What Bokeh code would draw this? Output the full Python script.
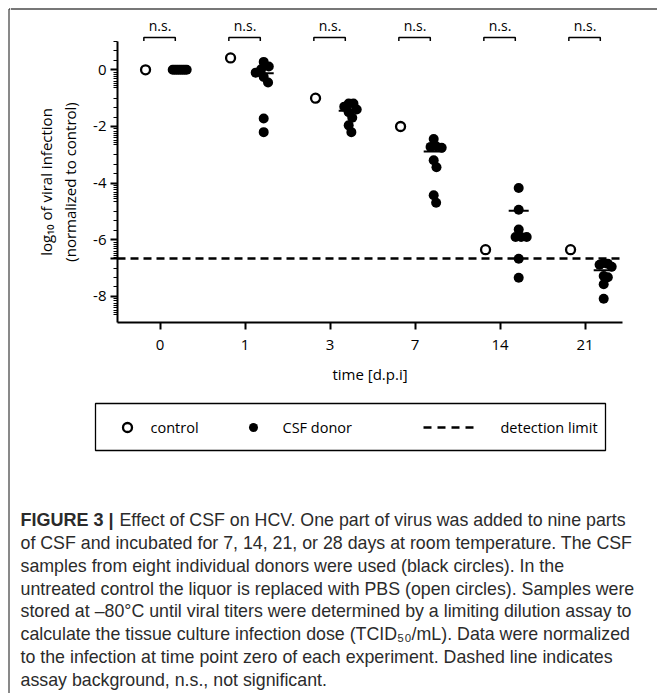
import math
from bokeh.plotting import figure
from bokeh.layouts import column, row
from bokeh.models import Range1d, FixedTicker, CustomJSTickFormatter, Span
from bokeh.core.properties import value
from bokeh.embed import file_html
from bokeh.resources import INLINE

# ---------------- data ----------------
days = ["0", "1", "3", "7", "14", "21"]
control = [0.0, 0.42, -1.0, -2.0, -6.35, -6.35]
csf_d0 = [0.0, 0.0, 0.0, 0.0, 0.0, 0.0, 0.0, 0.0]
csf_d1 = [0.28, 0.12, 0.02, -0.10, -0.25, -0.45, -1.72, -2.20]
csf_d3 = [-1.19, -1.19, -1.30, -1.40, -1.50, -1.69, -1.96, -2.20]
csf_d7 = [-2.44, -2.70, -2.72, -2.75, -3.19, -3.44, -4.43, -4.69]
csf_d14 = [-4.17, -4.94, -5.64, -5.90, -5.90, -5.90, -6.67, -7.34]
csf_d21 = [-6.82, -6.85, -6.88, -6.95, -7.28, -7.32, -7.57, -8.08]
csf_groups = [csf_d0, csf_d1, csf_d3, csf_d7, csf_d14, csf_d21]
detection_limit = -6.66
y_major = [0, -2, -4, -6, -8]
significance = ["n.s.", "n.s.", "n.s.", "n.s.", "n.s.", "n.s."]
legend_labels = ["control", "CSF donor", "detection limit"]
x_title = "time [d.p.i]"
y_title = "log\u2081\u2080 of viral infection\n(normalized to control)"
caption_head = "FIGURE 3 |"
caption_lines = [
    "Effect of CSF on HCV. One part of virus was added to nine parts",
    "of CSF and incubated for 7, 14, 21, or 28 days at room temperature. The CSF",
    "samples from eight individual donors were used (black circles). In the",
    "untreated control the liquor is replaced with PBS (open circles). Samples were",
    "stored at \u201380\u00b0C until viral titers were determined by a limiting dilution assay to",
    "calculate the tissue culture infection dose (TCID\u2085\u2080/mL). Data were normalized",
    "to the infection at time point zero of each experiment. Dashed line indicates",
    "assay background, n.s., not significant.",
]

# ---------------- layout constants ----------------
SX = 10                 # width of the left strip (page border)
W = 647                 # width of the main column
LEFT = 117 - SX         # frame left inside main column
FRAME_W = 505
RIGHT = W - LEFT - FRAME_W
X_START, X_END = -0.5, -0.5 + FRAME_W / 85.0
FRAME_H = 281
Y_START, Y_END = -8.92, 1.0
H0, H1, H2 = 41, 354, 298
TOTAL_H = H0 + H1 + H2
PX_X = FRAME_W / (X_END - X_START)
PX_Y = FRAME_H / (Y_END - Y_START)
CTRL_OFF, CSF_OFF = -0.17, 0.22
FONT = "Open Sans"
BORDER = "#4a4a4a"


def no_align(f):
    try:
        f.frame_align = False
    except Exception:
        pass


def bare(f):
    f.outline_line_color = None
    f.xgrid.visible = False
    f.ygrid.visible = False
    no_align(f)


def swarm(vals, d=8.0, half_max=8.0):
    order = sorted(range(len(vals)), key=lambda i: -vals[i])
    placed = []
    offs = [0.0] * len(vals)
    for i in order:
        y = vals[i] * PX_Y
        k = 0
        while True:
            cands = [0.0] if k == 0 else [0.5 * k, -0.5 * k]
            found = None
            for c in cands:
                if all((c - px) ** 2 + (y - py) ** 2 >= d * d - 1e-9 for px, py in placed):
                    found = c
                    break
            if found is not None:
                break
            k += 1
        placed.append((found, y))
        offs[i] = found
    m = max(abs(o) for o in offs)
    if m > half_max:
        offs = [o * half_max / m for o in offs]
    return [o / PX_X for o in offs]


# ---------------- left strip : page border ----------------
strip = figure(width=SX, height=TOTAL_H, x_range=Range1d(0, SX), y_range=Range1d(TOTAL_H, 0),
               x_axis_location=None, y_axis_location=None, toolbar_location=None,
               output_backend="svg", min_border_left=0, min_border_right=0,
               min_border_top=0, min_border_bottom=0)
bare(strip)
strip.segment(x0=[8.5, 8.5], y0=[8.5, 8.5], x1=[8.5, SX], y1=[TOTAL_H, 8.5],
              line_color=BORDER, line_width=1.3)

# ---------------- figure 0 : significance brackets ----------------
f0 = figure(width=W, height=H0,
            x_range=Range1d(X_START - LEFT / PX_X, X_START + (W - LEFT) / PX_X),
            y_range=Range1d(H0, 0),
            x_axis_location=None, y_axis_location=None,
            toolbar_location=None, output_backend="svg",
            min_border_left=0, min_border_right=0, min_border_top=0, min_border_bottom=0)
bare(f0)
f0.add_layout(Span(location=8.5, dimension="width", line_color=BORDER, line_width=1.3))
bxs, bys = [], []
for i in range(len(days)):
    bxs.append([i - 0.19, i - 0.19, i + 0.18, i + 0.18])
    bys.append([H0 + 1, 37, 37, H0 + 1])
f0.multi_line(bxs, bys, line_color="black", line_width=1.5)
f0.text(x=[i for i in range(len(days))], y=[34] * len(days), text=significance,
        text_align="center", text_baseline="bottom",
        text_font=value(FONT), text_font_size="14px", text_color="black")

# ---------------- figure 1 : main chart ----------------
f1 = figure(width=W, height=H1, x_range=Range1d(X_START, X_END), y_range=Range1d(Y_START, Y_END),
            toolbar_location=None, output_backend="svg",
            min_border_left=LEFT, min_border_right=RIGHT,
            min_border_top=0, min_border_bottom=H1 - FRAME_H)
bare(f1)

f1.add_layout(Span(location=detection_limit, dimension="width", line_color="black",
                   line_width=2.7, line_dash="8 5"))

# control
f1.scatter([i + CTRL_OFF for i in range(len(days))], control, marker="circle", size=9,
           fill_color="white", line_color="black", line_width=2.3)

# CSF donors
xs, ys, mx0, mx1, my = [], [], [], [], []
for i, g in enumerate(csf_groups):
    offs = swarm(g)
    for v, o in zip(g, offs):
        xs.append(i + CSF_OFF + o)
        ys.append(v)
    mean = math.log10(sum(10 ** v for v in g) / len(g))
    mx0.append(i + CSF_OFF - 10 / PX_X)
    mx1.append(i + CSF_OFF + 10 / PX_X)
    my.append(mean)
f1.scatter(xs, ys, marker="circle", size=10, fill_color="black", line_color=None)
f1.segment(x0=mx0, y0=my, x1=mx1, y1=my, line_color="black", line_width=2)

# axes
minor = []
for M in [2] + y_major:
    for j in range(1, 9):
        t = M - 0.08 * j
        if Y_START <= t <= Y_END and M != 2:
            minor.append(t)
    for t in (M - 1, M - 4 / 3, M - 5 / 3):
        if Y_START <= t <= Y_END + 1e-6:
            minor.append(t)
f1.yaxis.ticker = FixedTicker(ticks=y_major + [detection_limit], minor_ticks=minor)
f1.yaxis.formatter = CustomJSTickFormatter(
    code="return Math.abs(tick - Math.round(tick)) < 1e-9 ? String(Math.round(tick)) : '';")
f1.xaxis.ticker = FixedTicker(ticks=list(range(len(days))), minor_ticks=[])
f1.xaxis.formatter = CustomJSTickFormatter(args=dict(labels=days),
                                           code="return labels[Math.round(tick)];")
for ax in (f1.xaxis[0], f1.yaxis[0]):
    ax.axis_line_width = 2
    ax.axis_line_color = "black"
    ax.major_tick_line_width = 2
    ax.major_tick_line_color = "black"
    ax.major_tick_in = 0
    ax.major_tick_out = 7
    ax.minor_tick_in = 0
    ax.minor_tick_out = 4
    ax.minor_tick_line_width = 1.2
    ax.minor_tick_line_color = "black"
    ax.major_label_text_font = FONT
    ax.major_label_text_font_size = "15px"
    ax.major_label_text_color = "black"
    ax.axis_label_text_font = FONT
    ax.axis_label_text_font_size = "15px"
    ax.axis_label_text_font_style = "normal"
    ax.axis_label_text_color = "black"
f1.yaxis.bounds = (Y_START, Y_END)
f1.xaxis.axis_label = x_title
f1.yaxis.axis_label = y_title
f1.xaxis.major_label_standoff = 10
f1.xaxis.axis_label_standoff = 11
f1.yaxis.major_label_standoff = 4
f1.yaxis.axis_label_standoff = 10

# ---------------- figure 2 : legend + caption (absolute page pixels) ----------------
OY = H0 + H1
f2 = figure(width=W, height=H2, x_range=Range1d(SX, SX + W), y_range=Range1d(OY + H2, OY),
            x_axis_location=None, y_axis_location=None,
            toolbar_location=None, output_backend="svg",
            min_border_left=0, min_border_right=0, min_border_top=0, min_border_bottom=0)
bare(f2)

LY = 427
f2.quad(left=[95], right=[605], top=[403], bottom=[450],
        fill_color=None, line_color="black", line_width=1.3)
f2.scatter([127], [LY], marker="circle", size=9, fill_color="white",
           line_color="black", line_width=2.3)
f2.scatter([253], [LY], marker="circle", size=9, fill_color="black", line_color=None)
f2.segment(x0=[423], y0=[LY], x1=[473], y1=[LY], line_color="black",
           line_width=2.7, line_dash="8 6")
f2.text(x=[150, 282, 500], y=[LY] * 3, text=legend_labels,
        text_baseline="middle", text_align="left", text_font=value(FONT),
        text_font_size="14.5px", text_color="black")

CAP_FONT = "Liberation Sans"
cap_y = [519, 542, 565, 588, 610, 633, 656, 679]
f2.text(x=[20], y=[cap_y[0]], text=[caption_head], text_baseline="middle",
        text_font=value(CAP_FONT), text_font_size="18px", text_font_style="bold",
        text_color="#2b2b2b")
cx = [119] + [20] * (len(caption_lines) - 1)
f2.text(x=cx, y=cap_y, text=caption_lines, text_baseline="middle",
        text_font=value(CAP_FONT), text_font_size="17.8px", text_color="#2b2b2b")

layout = row(strip, column(f0, f1, f2, spacing=0), spacing=0)

open("out.html", "w").write(file_html(layout, INLINE))
